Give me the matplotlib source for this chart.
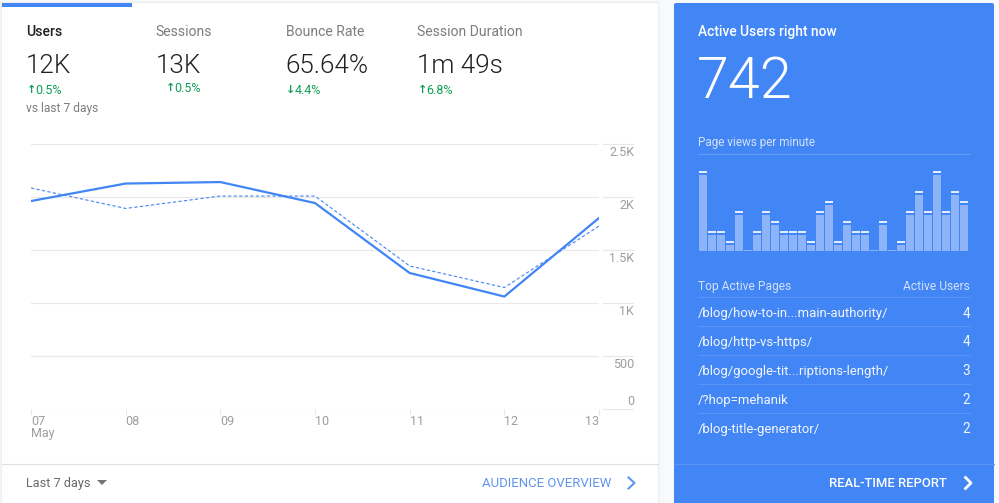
import numpy as np
import matplotlib
matplotlib.use('Agg')
import matplotlib.pyplot as plt
from matplotlib.patches import FancyBboxPatch, Rectangle, Polygon

plt.rcParams['font.family'] = ['Roboto', 'DejaVu Sans']

W, H = 999, 503
BLUE = '#4285f4'
GREY = '#7d7d7d'
GREEN = '#0f9d58'
GRID = '#e8e8e8'

days = ['07\nMay', '08', '09', '10', '11', '12', '13']
users_now = [1962, 2127, 2141, 1943, 1283, 1061, 1802]
users_prev = [2085, 1892, 2009, 2009, 1349, 1146, 1726]
y_ticks = [0, 500, 1000, 1500, 2000, 2500]
y_labels = ['0', '500', '1K', '1.5K', '2K', '2.5K']

metric_names = ['Users', 'Sessions', 'Bounce Rate', 'Session Duration']
metric_values = ['12K', '13K', '65.64%', '1m 49s']
metric_deltas = ['0.5%', '0.5%', '4.4%', '6.8%']
metric_arrows = ['↑', '↑', '↓', '↑']

page_views = [8, 2, 2, 1, 4, 0, 2, 4, 3, 2, 2, 2, 1, 4, 5,
              1, 3, 2, 2, 0, 3, 0, 1, 4, 6, 4, 8, 4, 6, 5]
pages = ['/blog/how-to-in...main-authority/', '/blog/http-vs-https/',
         '/blog/google-tit...riptions-length/', '/?hop=mehanik', '/blog-title-generator/']
page_users = [4, 4, 3, 2, 2]


def px(size):
    return size * 0.72


def pixel_axes(fig, x0, y0, x1, y1):
    # rect given in image pixels, y downwards
    return fig.add_axes([x0 / W, 1 - y1 / H, (x1 - x0) / W, (y1 - y0) / H])


fig = plt.figure(figsize=(W / 100, H / 100), dpi=100, facecolor='#f8f9fa')

# page chrome, drawn in image pixels
bg = fig.add_axes([0, 0, 1, 1])
bg.set_xlim(0, W)
bg.set_ylim(H, 0)
bg.axis('off')

for off, a in [(2, 0.015), (1, 0.03)]:
    bg.add_patch(Rectangle((2 - off, 3 - off), 656 + 2 * off, 510, fc='black', ec='none', alpha=a))
bg.add_patch(FancyBboxPatch((3, 4), 654, 510, boxstyle='round,pad=1,rounding_size=2', fc='white', ec='none'))
bg.add_patch(Rectangle((2, 3), 130, 4, fc=BLUE, ec='none'))
bg.add_patch(FancyBboxPatch((675, 4), 318, 510, boxstyle='round,pad=1,rounding_size=2', fc=BLUE, ec='none'))
bg.plot([2, 658], [463.5, 463.5], color='#e0e0e0', lw=0.8)

name_x = [26, 155.5, 286, 417]
value_x = [25.5, 155.5, 285.5, 417]
arrow_x = [27, 166, 286, 418]
delta_x = [35.5, 174.5, 295, 426.5]
delta_y = [90, 88, 90, 90]
for i in range(4):
    bg.text(name_x[i], 31.8, metric_names[i], fontsize=px(14), va='center',
            color='#212121' if i == 0 else GREY, weight='medium' if i == 0 else 'normal')
    bg.text(value_x[i], 65.5, metric_values[i], fontsize=px(26), va='center', color='#212121', weight=300)
    bg.text(arrow_x[i], delta_y[i], metric_arrows[i], fontsize=px(11), va='center', color=GREEN,
            weight='bold', family='DejaVu Sans')
    bg.text(delta_x[i], delta_y[i], metric_deltas[i], fontsize=px(12.5), va='center', color=GREEN)
bg.text(26, 108.3, 'vs last 7 days', fontsize=px(12), va='center', color=GREY)

bg.text(26, 483.2, 'Last 7 days', fontsize=px(12.8), va='center', color='#6b6b6b')
bg.add_patch(Polygon([[97, 480], [107, 480], [102, 485]], fc='#757575', ec='none'))
bg.text(611, 483.2, 'AUDIENCE OVERVIEW', fontsize=px(13.1), va='center', ha='right', color='#5f95ee')
bg.plot([628.5, 634.5, 628.5], [477.5, 483, 488.5], color='#5f95ee', lw=1.5)

# right panel text
bg.text(698, 31.8, 'Active Users right now', fontsize=px(13.8), va='center', color='white', weight='medium')
bg.text(697, 82, '742', fontsize=px(57.5), va='center', color='white', weight=300)
bg.text(698, 142.8, 'Page views per minute', fontsize=px(11.8), va='center', color='#d3e2fc')
bg.plot([698, 970], [153.5, 153.5], color='#659cf6', lw=0.8)
bg.text(698, 286.3, 'Top Active Pages', fontsize=px(12), va='center', color='#d3e2fc')
bg.text(969.5, 286.3, 'Active Users', fontsize=px(12), va='center', ha='right', color='#d3e2fc')
row_y = [312.7, 341.7, 370.5, 399.5, 428.5]
for i in range(5):
    bg.plot([698, 970], [row_y[i] - 15.5, row_y[i] - 15.5], color='#5a95f6', lw=0.8)
    bg.text(698, row_y[i] + 0.8, pages[i], fontsize=px(13.1), va='center', color='#f2f6fe')
    bg.text(970, row_y[i] + 0.8, str(page_users[i]), fontsize=px(13.5), va='center', ha='right', color='#f2f6fe')
bg.plot([674, 994], [463.5, 463.5], color='#5a95f6', lw=0.8)
bg.text(947, 483.2, 'REAL-TIME REPORT', fontsize=px(13), va='center', ha='right', color='white', weight='medium')
bg.plot([965.5, 971, 965.5], [477.5, 483, 488.5], color='white', lw=2)

# users line chart
ax = pixel_axes(fig, 31, 144, 599, 409)
ax.patch.set_alpha(0)
x = np.arange(len(days))
ax.plot(x, users_prev, color=BLUE, lw=0.8, dashes=(3, 2))
ax.plot(x, users_now, color=BLUE, lw=1.6)
ax.set_xlim(0, 6)
ax.set_ylim(0, 2500)
ax.set_xticks(x)
ax.set_xticklabels(days, fontsize=px(12.5), color='#9e9e9e', ha='left', linespacing=0.95)
ax.get_xticklabels()[-1].set_ha('right')
ax.tick_params(axis='x', length=4, width=0.8, color=GRID, pad=0.3)
ax.set_yticks(y_ticks)
ax.set_yticklabels([])
ax.tick_params(axis='y', length=0)
ax.grid(axis='y', color=GRID, lw=0.8)
ax.set_axisbelow(True)
for s in ['top', 'left', 'right', 'bottom']:
    ax.spines[s].set_visible(False)
seg = ax.get_yaxis_transform()
for v, lab in zip(y_ticks, y_labels):
    ax.plot([1 + 4 / 568, 1 + 34 / 568], [v, v], transform=seg, color=GRID, lw=0.8, clip_on=False)
    ax.annotate(lab, (1, v), xycoords=seg, xytext=(px(35), px(-8.5) if v else px(7.5)),
                textcoords='offset points', ha='right', va='center', fontsize=px(12.5), color='#9e9e9e')

# page views bars
bx = pixel_axes(fig, 698.5, 170.7, 968.5, 250.7)
bx.axis('off')
views = np.array(page_views)
pos = np.arange(len(views))
bx.bar(pos, np.maximum(views - 0.43, 0.08), width=8 / 9, color='#8db4f8')
bx.bar(pos[views > 0], 0.2, bottom=views[views > 0] - 0.2, width=8 / 9, color='#e3edfd')
bx.set_xlim(-0.5, len(views) - 0.5)
bx.set_ylim(0, 8)

fig.savefig('out.png', dpi=100, facecolor=fig.get_facecolor())
